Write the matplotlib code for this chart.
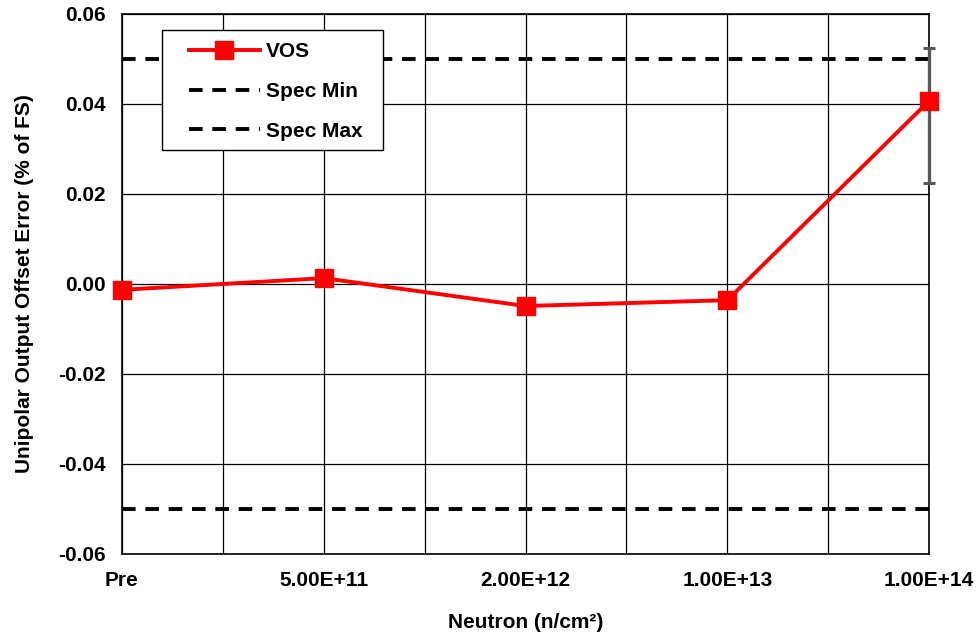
import matplotlib.pyplot as plt
from matplotlib.patches import Rectangle
from matplotlib.ticker import MultipleLocator

plt.rcParams['font.family'] = ['Liberation Sans', 'DejaVu Sans']
plt.rcParams['font.weight'] = 'bold'

categories = ['Pre', '5.00E+11', '2.00E+12', '1.00E+13', '1.00E+14']
vos = [-0.0013, 0.0013, -0.0049, -0.0036, 0.0407]
err_low = [0.0, 0.0, 0.0, 0.0, 0.0183]
err_high = [0.0, 0.0, 0.0, 0.0, 0.0117]
spec_min = [0.05] * len(categories)
spec_max = [-0.05] * len(categories)

fig = plt.figure(figsize=(9.78, 6.36), dpi=100)
ax = fig.add_axes([0.1247, 0.129, 0.8253, 0.849])

x = list(range(len(categories)))

eb = ax.errorbar(x, vos, yerr=[err_low, err_high], fmt='none', ecolor='#595959',
                 elinewidth=2.4, capsize=4.5, capthick=2.2, zorder=3)
for art in eb.lines[1] + eb.lines[2]:
    art.set_clip_on(False)
ax.plot(x, vos, color='red', lw=2.8, marker='s', markersize=12.5,
        label='VOS', zorder=4, clip_on=False)
ax.plot(x, spec_min, color='black', lw=2.8, ls=(0, (3.5, 2.5)),
        label='Spec Min', zorder=2)
ax.plot(x, spec_max, color='black', lw=2.8, ls=(0, (3.5, 2.5)),
        label='Spec Max', zorder=2)

ax.set_xlim(0, 4)
ax.set_ylim(-0.06, 0.06)
ax.set_xticks(x)
ax.set_xticklabels(categories)
ax.xaxis.set_minor_locator(MultipleLocator(0.5))
ax.yaxis.set_major_locator(MultipleLocator(0.02))
ax.yaxis.set_major_formatter(plt.FuncFormatter(lambda v, p: f'{v:.2f}'))
ax.grid(True, which='both', axis='x', color='black', lw=0.9)
ax.grid(True, which='major', axis='y', color='black', lw=0.9)
ax.tick_params(which='both', length=0, labelsize=15)
ax.tick_params(axis='x', pad=12)
ax.tick_params(axis='y', pad=12)
for s in ax.spines.values():
    s.set_linewidth(1.2)

ax.set_xlabel('Neutron (n/cm²)', fontsize=15, fontweight='bold', labelpad=17)
ax.set_ylabel('Unipolar Output Offset Error (% of FS)', fontsize=15,
              fontweight='bold', labelpad=17)

# legend box drawn separately so the padding matches the original
ax.add_patch(Rectangle((0.0496, 0.748), 0.274, 0.222, transform=ax.transAxes,
                       facecolor='white', edgecolor='black', lw=1.0, zorder=4.5))
leg = ax.legend(loc='upper left', bbox_to_anchor=(0.083, 0.948), fontsize=15,
                frameon=False, borderpad=0, labelspacing=1.0, handlelength=3.4,
                handletextpad=0.3, borderaxespad=0)
leg.set_zorder(5)

fig.savefig('out.png', dpi=100)
